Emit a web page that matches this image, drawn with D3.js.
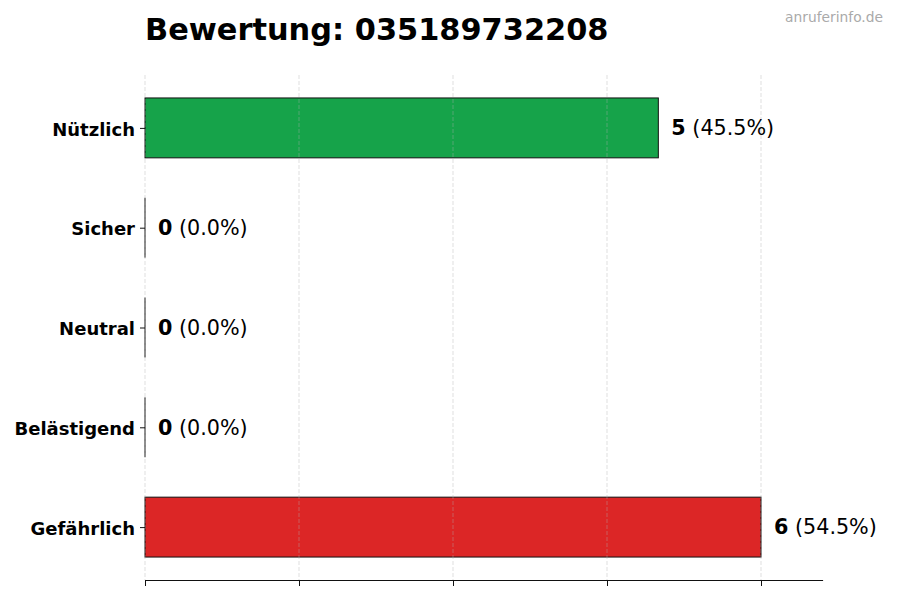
<!DOCTYPE html>
<meta charset="utf-8">
<style>
body { margin: 0; background: white; }
text { font-family: "DejaVu Sans", sans-serif; }
</style>
<body>
<script src="https://cdnjs.cloudflare.com/ajax/libs/d3/7.8.5/d3.min.js"></script>
<script>
var categories = ['Nützlich', 'Sicher', 'Neutral', 'Belästigend', 'Gefährlich']
var counts = [5, 0, 0, 0, 6]
var percents = ['45.5%', '0.0%', '0.0%', '0.0%', '54.5%']
var colors = ['#16a34a', '#16a34a', '#6b7280', '#f97316', '#dc2626']
var xTicks = [0, 1.5, 3, 4.5, 6]

var width = 900
var height = 600
var plotLeft = 145
var plotTop = 75
var plotBottom = 580

var svg = d3.select('body').append('svg')
    .attr('width', width)
    .attr('height', height)

var x = d3.scaleLinear().domain([0, 6.6]).range([plotLeft, 822.6])
var y = d3.scaleLinear().domain([-0.53, 4.53]).range([plotTop, plotBottom])
var barH = 0.6

// bars
svg.append('g').selectAll('rect')
    .data(counts)
    .enter().append('rect')
    .attr('x', x(0))
    .attr('y', function (d, i) { return y(i - barH / 2) })
    .attr('width', function (d) { return x(d) - x(0) })
    .attr('height', function (d, i) { return y(i + barH / 2) - y(i - barH / 2) })
    .attr('fill', function (d, i) { return colors[i] })
    .attr('stroke', '#111')
    .attr('stroke-width', 1)

// zero-width bars still show their edge
svg.append('g').selectAll('line')
    .data(counts.map(function (d, i) { return { v: d, i: i } }).filter(function (d) { return d.v === 0 }))
    .enter().append('line')
    .attr('x1', x(0))
    .attr('x2', x(0))
    .attr('y1', function (d) { return y(d.i - barH / 2) })
    .attr('y2', function (d) { return y(d.i + barH / 2) })
    .attr('stroke', '#111')
    .attr('stroke-width', 1)

// grid (faint, drawn over the bars)
svg.append('g').selectAll('line')
    .data(xTicks)
    .enter().append('line')
    .attr('x1', function (d) { return x(d) })
    .attr('x2', function (d) { return x(d) })
    .attr('y1', plotTop)
    .attr('y2', plotBottom)
    .attr('stroke', '#b0b0b0')
    .attr('stroke-opacity', 0.5)
    .attr('stroke-width', 0.8)
    .attr('stroke-dasharray', '4,2')

// value labels
var lab = svg.append('g').selectAll('text')
    .data(counts)
    .enter().append('text')
    .attr('x', function (d) { return x(d) + 13 })
    .attr('y', function (d, i) { return y(i) })
    .attr('dy', '0.35em')
    .attr('font-size', 20.7)
    .attr('fill', '#000')
lab.append('tspan').attr('font-weight', 'bold').text(function (d) { return d })
lab.append('tspan').text(function (d, i) { return ' (' + percents[i] + ')' })

// x axis
var xAxis = svg.append('g')
    .attr('transform', 'translate(0,' + plotBottom + ')')
    .call(d3.axisBottom(x).tickValues(xTicks).tickFormat('').tickSize(6).tickSizeOuter(0))
xAxis.select('.domain').attr('stroke', '#111')
xAxis.selectAll('.tick line').attr('stroke', '#111')

// y axis (ticks and labels, no spine)
var yAxis = svg.append('g')
    .attr('transform', 'translate(' + plotLeft + ',0)')
    .call(d3.axisLeft(y).tickValues(d3.range(categories.length))
        .tickFormat(function (i) { return categories[i] }).tickSize(5).tickPadding(5).tickSizeOuter(0))
yAxis.select('.domain').remove()
yAxis.selectAll('.tick line').attr('stroke', '#111')
yAxis.selectAll('.tick text')
    .attr('font-family', '"DejaVu Sans", sans-serif')
    .attr('font-size', 18)
    .attr('font-weight', 'bold')
    .attr('fill', '#000')
    .attr('dy', '0.4em')

// title
svg.append('text')
    .attr('x', plotLeft)
    .attr('y', 40)
    .attr('font-size', 30.4)
    .attr('font-weight', 'bold')
    .attr('fill', '#000')
    .text('Bewertung: 035189732208')

svg.append('text')
    .attr('x', 883)
    .attr('y', 22)
    .attr('text-anchor', 'end')
    .attr('font-size', 13.8)
    .attr('fill', '#aaaaaa')
    .text('anruferinfo.de')
</script>
</body>
